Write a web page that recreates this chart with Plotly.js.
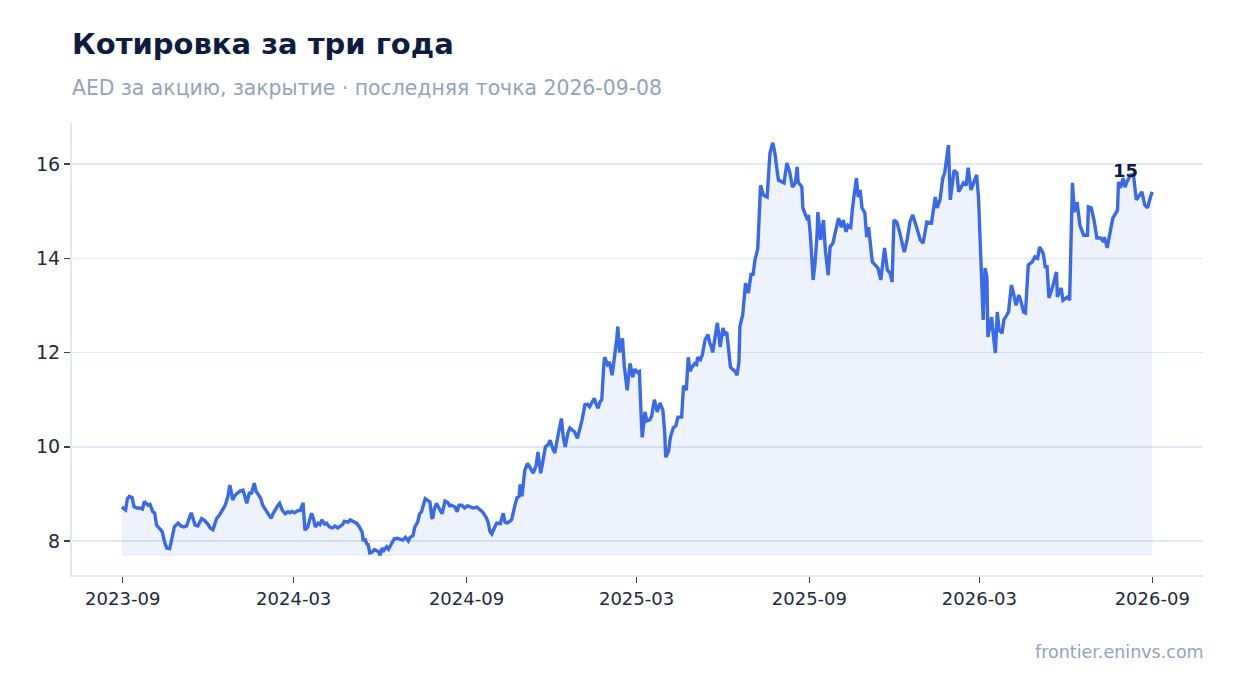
<!DOCTYPE html>
<html>
<head>
<meta charset="utf-8">
<script src="https://cdn.plot.ly/plotly-3.0.1.min.js"></script>
<style>
  html, body { margin: 0; padding: 0; background: #fff; }
  #chart { width: 1234px; height: 693px; }
</style>
</head>
<body>
<div id="chart"></div>
<script>
'use strict';

// first trading day of the window
var startDate = '2023-09-08';

// days since startDate for every close
var dayOffsets = [
  -1, 3, 5, 7, 10, 12, 15, 18, 21, 23, 27, 29, 32, 34, 36, 39, 42, 45, 47, 50,
  53, 55, 59, 62, 65, 68, 71, 73, 77, 80, 84, 87, 91, 93, 96, 98, 100, 103, 107, 109,
  112, 114, 116, 117, 119, 121, 125, 128, 130, 132, 135, 137, 140, 142, 144, 147, 149, 151, 153, 156,
  158, 160, 162, 165, 167, 170, 173, 176, 178, 180, 183, 186, 189, 192, 194, 197, 199, 201, 203, 205,
  208, 210, 212, 215, 217, 220, 223, 226, 229, 232, 234, 236, 240, 242, 245, 249, 252, 255, 256, 258,
  260, 261, 263, 265, 268, 272, 274, 276, 278, 281, 283, 287, 289, 292, 295, 298, 301, 304, 306, 309,
  311, 314, 316, 318, 322, 325, 327, 329, 330, 332, 334, 338, 340, 342, 343, 346, 348, 350, 354, 356,
  358, 361, 364, 367, 370, 373, 377, 380, 383, 387, 389, 391, 393, 395, 398, 402, 405, 407, 409, 412,
  414, 418, 420, 422, 423, 425, 428, 431, 434, 437, 440, 442, 445, 447, 450, 453, 455, 458, 460, 463,
  467, 469, 471, 474, 476, 479, 481, 484, 487, 489, 492, 495, 497, 500, 502, 504, 506, 508, 510, 512,
  513, 516, 518, 521, 523, 524, 526, 527, 529, 532, 534, 537, 540, 543, 545, 548, 550, 552, 553, 556,
  558, 561, 563, 566, 569, 572, 575, 577, 578, 581, 583, 586, 589, 591, 595, 597, 600, 602, 604, 606,
  609, 611, 612, 615, 617, 620, 623, 625, 627, 628, 631, 633, 635, 636, 639, 641, 643, 645, 647, 650,
  652, 654, 656, 657, 660, 663, 666, 669, 671, 673, 676, 679, 682, 686, 689, 692, 694, 698, 702, 704,
  707, 710, 713, 716, 718, 719, 723, 724, 729, 730, 732, 734, 735, 737, 739, 740, 743, 746, 748, 751,
  753, 756, 759, 762, 765, 767, 770, 772, 775, 777, 781, 783, 785, 787, 790, 792, 794, 798, 801, 804,
  807, 809, 811, 814, 817, 819, 821, 824, 827, 832, 835, 838, 841, 846, 849, 852, 856, 861, 863, 865,
  867, 870, 873, 875, 879, 881, 885, 888, 890, 895, 898, 900, 903, 905, 909, 911, 913, 916, 918, 920,
  921, 925, 927, 929, 931, 933, 936, 938, 943, 946, 948, 951, 954, 956, 959, 961, 964, 968, 971, 974,
  976, 980, 982, 984, 986, 990, 994, 995, 999, 1001, 1006, 1008, 1011, 1013, 1016, 1019, 1023, 1027, 1028, 1031,
  1034, 1037, 1041, 1044, 1045, 1048, 1051, 1054, 1059, 1060, 1062, 1065, 1067, 1069, 1073, 1076, 1079, 1081, 1085, 1088,
  1091, 1094, 1096
];

// close, AED per share
var closePrices = [
  8.72, 8.66, 8.90, 8.95, 8.92, 8.73, 8.70, 8.70, 8.68, 8.84, 8.76, 8.78, 8.62, 8.60, 8.34, 8.27, 8.20, 7.95, 7.85, 7.84,
  8.10, 8.30, 8.38, 8.32, 8.30, 8.32, 8.50, 8.60, 8.34, 8.32, 8.48, 8.44, 8.35, 8.28, 8.24, 8.35, 8.48, 8.55, 8.68, 8.76,
  8.95, 9.19, 9.00, 8.87, 8.95, 9.00, 9.06, 9.08, 8.95, 8.80, 9.04, 9.00, 9.23, 9.05, 9.00, 8.90, 8.76, 8.70, 8.62, 8.55,
  8.48, 8.58, 8.66, 8.75, 8.80, 8.65, 8.58, 8.62, 8.60, 8.63, 8.60, 8.64, 8.65, 8.81, 8.23, 8.30, 8.45, 8.59, 8.48, 8.30,
  8.38, 8.35, 8.45, 8.36, 8.38, 8.30, 8.28, 8.32, 8.28, 8.33, 8.35, 8.42, 8.40, 8.45, 8.42, 8.38, 8.30, 8.18, 8.00, 8.05,
  7.92, 7.95, 7.75, 7.76, 7.82, 7.78, 7.70, 7.85, 7.80, 7.88, 7.83, 7.98, 8.05, 8.06, 8.03, 8.02, 8.08, 8.00, 8.08, 8.12,
  8.30, 8.40, 8.58, 8.62, 8.90, 8.86, 8.83, 8.50, 8.48, 8.70, 8.80, 8.65, 8.58, 8.75, 8.85, 8.82, 8.75, 8.76, 8.72, 8.62,
  8.76, 8.76, 8.70, 8.75, 8.72, 8.70, 8.72, 8.68, 8.62, 8.50, 8.40, 8.20, 8.15, 8.25, 8.38, 8.37, 8.59, 8.40, 8.38, 8.42,
  8.45, 8.80, 8.93, 8.95, 9.20, 8.95, 9.50, 9.65, 9.55, 9.44, 9.60, 9.89, 9.44, 9.70, 10.00, 10.05, 10.14, 9.95, 9.87, 10.20,
  10.60, 10.20, 10.00, 10.30, 10.40, 10.35, 10.32, 10.18, 10.40, 10.57, 10.89, 10.90, 10.85, 10.95, 11.03, 10.90, 10.82, 10.95, 11.00, 11.70,
  11.90, 11.75, 11.80, 11.52, 11.80, 12.00, 12.30, 12.55, 12.00, 12.30, 11.70, 11.20, 11.77, 11.48, 11.65, 11.58, 11.60, 10.60, 10.20, 10.74,
  10.55, 10.57, 10.65, 11.00, 10.74, 10.93, 10.78, 10.30, 9.78, 9.90, 10.20, 10.40, 10.45, 10.63, 10.63, 11.30, 11.20, 11.90, 11.60, 11.69,
  11.77, 11.75, 11.90, 11.85, 11.95, 12.27, 12.38, 12.20, 12.10, 12.00, 12.40, 12.63, 12.30, 12.12, 12.52, 12.40, 12.43, 12.10, 11.69, 11.63,
  11.60, 11.52, 11.80, 12.55, 12.80, 13.47, 13.26, 13.68, 13.64, 13.96, 14.20, 15.55, 15.34, 15.30, 16.23, 16.45, 16.26, 15.66, 15.62, 15.60,
  16.02, 15.83, 15.51, 15.60, 15.94, 15.62, 15.51, 15.07, 14.81, 14.92, 14.50, 13.60, 13.54, 13.90, 14.45, 14.98, 14.39, 14.81, 14.17, 13.64,
  14.24, 14.32, 14.60, 14.85, 14.66, 14.81, 14.56, 14.70, 14.66, 15.09, 15.70, 15.30, 15.45, 15.07, 14.96, 14.45, 14.66, 13.92, 13.86, 13.79,
  13.54, 13.86, 14.22, 13.75, 13.68, 13.50, 14.81, 14.77, 14.56, 14.13, 14.39, 14.77, 14.92, 14.60, 14.39, 14.32, 14.77, 14.75, 14.98, 15.30,
  15.07, 15.24, 15.70, 15.81, 16.40, 15.24, 15.87, 15.81, 15.41, 15.60, 15.55, 15.92, 15.45, 15.55, 15.77, 15.30, 14.03, 12.69, 13.79, 13.60,
  12.33, 12.75, 12.33, 11.99, 12.86, 12.48, 12.41, 12.69, 12.86, 13.43, 13.28, 13.00, 13.22, 13.10, 12.86, 12.84, 13.86, 13.92, 14.03, 14.00,
  14.24, 14.10, 13.82, 13.82, 13.16, 13.40, 13.71, 13.18, 13.37, 13.11, 13.18, 13.11, 15.60, 14.98, 15.19, 14.70, 14.49, 14.49, 15.09, 15.07,
  14.81, 14.43, 14.43, 14.35, 14.45, 14.22, 14.54, 14.85, 15.02, 15.62, 15.49, 15.70, 15.51, 15.62, 15.77, 15.77, 15.24, 15.30, 15.41, 15.13,
  15.07, 15.30, 15.41
];

var yTicks = [8, 10, 12, 14, 16];

var chartTitle = 'Котировка за три года';
var chartSubtitle = 'AED за акцию, закрытие · последняя точка 2026-09-08';
var sourceText = 'frontier.eninvs.com';

var lineColor = '#3a6ae6';
var inkColor = '#0f1c3f';
var mutedColor = '#94a3b8';
var gridColor = '#e2e8f0';
var fontFamily = '"DejaVu Sans", Verdana, sans-serif';

function offsetToDate( days ){
  var d = new Date( startDate + 'T00:00:00Z' );
  d.setUTCDate( d.getUTCDate() + days );
  return d.toISOString().slice( 0, 10 );
}

var dates = dayOffsets.map( offsetToDate );
var floorValue = Math.min.apply( null, closePrices );
var baseline = closePrices.map( function(){ return floorValue; } );

// peak of the last weeks carries the rounded last close
var tailFrom = closePrices.length - 15;
var peakIdx = tailFrom;
for ( var i = tailFrom; i < closePrices.length; i++ ) {
  if ( closePrices[i] > closePrices[peakIdx] ) peakIdx = i;
}
var lastClose = closePrices[closePrices.length - 1];

var traces = [
  {
    type: 'scatter',
    mode: 'lines',
    x: dates,
    y: baseline,
    line: { color: 'rgba(58,106,230,0.10)', width: 1 },
    hoverinfo: 'skip',
    showlegend: false
  },
  {
    type: 'scatter',
    mode: 'lines',
    x: dates,
    y: closePrices,
    fill: 'tonexty',
    fillcolor: 'rgba(58,106,230,0.09)',
    line: { color: lineColor, width: 3.4 },
    showlegend: false
  }
];

var layout = {
  width: 1234,
  height: 693,
  paper_bgcolor: '#ffffff',
  plot_bgcolor: '#ffffff',
  margin: { l: 72, r: 31, t: 123, b: 118 },
  font: { family: fontFamily, size: 18, color: '#1e293b' },
  showlegend: false,
  title: {
    text: '<b>' + chartTitle + '</b>',
    font: { family: fontFamily, size: 29, color: inkColor },
    xref: 'paper',
    x: 0,
    xanchor: 'left',
    yref: 'container',
    y: 0.937,
    yanchor: 'middle'
  },
  xaxis: {
    type: 'date',
    range: [ '2023-07-16', '2026-11-01' ],
    tick0: startDate,
    dtick: 'M6',
    tickformat: '%Y-%m',
    ticks: 'outside',
    ticklen: 6,
    tickwidth: 1.5,
    tickcolor: '#334155',
    tickfont: { size: 18, color: '#1e293b' },
    showgrid: false,
    zeroline: false,
    showline: true,
    linecolor: gridColor,
    linewidth: 2
  },
  yaxis: {
    range: [ 7.28, 16.87 ],
    tickvals: yTicks,
    ticks: 'outside',
    ticklen: 6,
    tickwidth: 1.5,
    tickcolor: '#334155',
    tickfont: { size: 19, color: '#1e293b' },
    gridcolor: gridColor,
    gridwidth: 1.5,
    zeroline: false,
    showline: true,
    linecolor: gridColor,
    linewidth: 2
  },
  annotations: [
    {
      text: chartSubtitle,
      xref: 'paper', yref: 'paper',
      x: 0, y: 1.077,
      xanchor: 'left', yanchor: 'middle',
      xshift: -2,
      showarrow: false,
      font: { family: fontFamily, size: 20.4, color: mutedColor }
    },
    {
      text: sourceText,
      xref: 'paper', yref: 'paper',
      x: 1, y: -0.170,
      xanchor: 'right', yanchor: 'middle',
      xshift: 3,
      showarrow: false,
      font: { family: fontFamily, size: 17.5, color: mutedColor }
    },
    {
      text: '<b>' + Math.round( lastClose ) + '</b>',
      x: dates[peakIdx], y: closePrices[peakIdx],
      xanchor: 'center', yanchor: 'middle',
      xshift: -5, yshift: 4,
      showarrow: false,
      font: { family: fontFamily, size: 18, color: inkColor }
    }
  ]
};

var conf = { displayModeBar: false, staticPlot: true };

Plotly.newPlot( 'chart', traces, layout, conf );
</script>
</body>
</html>
